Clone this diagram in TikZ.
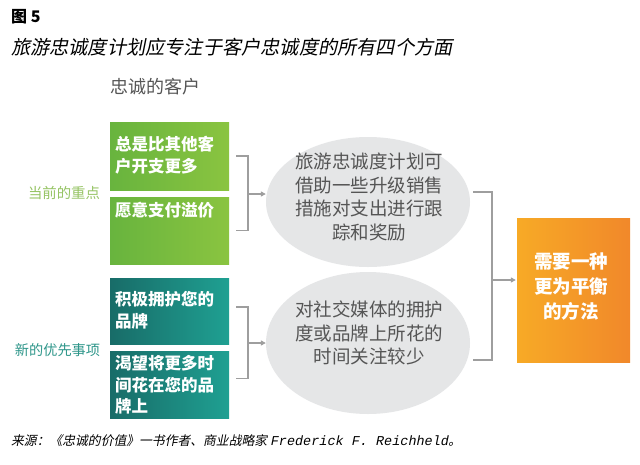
\documentclass[tikz,border=0pt]{standalone}
\usepackage{fontspec}
\setmainfont{Noto Sans CJK SC}
\newfontfamily\cjkslant{Noto Sans CJK SC}[FakeSlant=0.2]
\newfontfamily\monoslant{Liberation Mono}[FakeSlant=0.2]
\usetikzlibrary{arrows.meta,shapes.geometric}
\definecolor{gl}{RGB}{104,180,62}
\definecolor{gr}{RGB}{138,196,64}
\definecolor{tl}{RGB}{24,108,104}
\definecolor{tr}{RGB}{31,160,146}
\definecolor{ol}{RGB}{247,170,38}
\definecolor{or}{RGB}{241,136,42}
\definecolor{ellfill}{RGB}{229,230,231}
\definecolor{linegray}{RGB}{158,158,158}
\definecolor{etextc}{RGB}{85,85,85}
\definecolor{lblgreen}{RGB}{150,196,100}
\definecolor{lblteal}{RGB}{46,150,138}
\begin{document}
\begin{tikzpicture}[x=1pt,y=-1pt,
  gbox/.style={rectangle, inner sep=0pt, left color=gl, right color=gr, draw=none},
  tbox/.style={rectangle, inner sep=0pt, left color=tl, right color=tr, draw=none},
  obox/.style={rectangle, inner sep=0pt, left color=ol, right color=or, draw=none},
  btext/.style={inner sep=0pt, anchor=west, align=left, text=white, font=\fontsize{16.5}{21.5}\selectfont\bfseries},
  ell/.style={ellipse, inner sep=0pt, fill=ellfill, draw=none},
  etext/.style={inner sep=0pt, align=center, text=etextc, font=\fontsize{18.5}{23.5}\selectfont},
  otext/.style={inner sep=0pt, align=center, text=white, font=\fontsize{18.5}{25}\selectfont\bfseries},
  conn/.style={draw=linegray, line width=1.2pt},
  arr/.style={conn, -{Triangle[length=5pt,width=5pt]}},
]
\useasboundingbox[fill=white] (0,0) rectangle (640,464);

% titles
\node[anchor=west, inner sep=0pt, font=\fontsize{16}{18}\selectfont\bfseries] (title) at (11,17) {图 5};
\node[anchor=west, inner sep=0pt, font=\cjkslant\fontsize{19.2}{22}\selectfont] (subtitle) at (11,47) {旅游忠诚度计划应专注于客户忠诚度的所有四个方面};
\node[anchor=west, inner sep=0pt, text=etextc, font=\fontsize{18}{20}\selectfont] (head) at (110,87) {忠诚的客户};

% side labels
\node[inner sep=0pt, text=lblgreen, font=\fontsize{14.4}{16}\selectfont] (lab1) at (64,193) {当前的重点};
\node[inner sep=0pt, text=lblteal, font=\fontsize{14.2}{16}\selectfont] (lab2) at (57.5,350) {新的优先事项};

% green / teal boxes
\node[gbox, minimum width=119pt, minimum height=68pt] (b1) at (169.5,156) {};
\node[gbox, minimum width=119pt, minimum height=67pt] (b2) at (169.5,230.5) {};
\node[tbox, minimum width=119pt, minimum height=66pt] (b3) at (169.5,311) {};
\node[tbox, minimum width=119pt, minimum height=67pt] (b4) at (169.5,384.5) {};
\node[btext] (t1) at (115,155) {总是比其他客\\户开支更多};
\node[btext] (t2) at (115,210) {愿意支付溢价};
\node[btext] (t3) at (115,310) {积极拥护您的\\品牌};
\node[btext] (t4) at (115,385) {渴望将更多时\\间花在您的品\\牌上};

% ellipses
\node[ell, minimum width=204pt, minimum height=130pt] (e1) at (368,202) {};
\node[ell, minimum width=204pt, minimum height=142pt] (e2) at (368,343) {};
\node[etext] (et1) at (369,197) {旅游忠诚度计划可\\借助一些升级销售\\措施对支出进行跟\\踪和奖励};
\node[etext] (et2) at (369,333) {对社交媒体的拥护\\度或品牌上所花的\\时间关注较少};

% orange box
\node[obox, minimum width=113pt, minimum height=144pt] (o) at (573.5,290) {};
\node[otext] (ot) at (571,287) {需要一种\\更为平衡\\的方法};

% connectors
\coordinate (j1) at (248,194);
\coordinate (j2) at (248,343);
\coordinate (j3) at (492,280);
\draw[conn] ([xshift=7pt]b1.east) -| (j1) |- ([xshift=7pt]b2.east);
\draw[arr] (j1) -- (j1 -| e1.west);
\draw[conn] ([shift={(7pt,4pt)}]b3.east) -| (j2) |- ([shift={(7pt,6pt)}]b4.east);
\draw[arr] (j2) -- (j2 -| e2.west);
\draw[conn] ([shift={(3pt,10pt)}]e1.east) -| (j3) |- ([shift={(3pt,-17pt)}]e2.east);
\draw[arr, shorten >=1pt] (j3) -- (j3 -| o.west);

% source
\node[anchor=west, inner sep=0pt, font=\fontsize{12.8}{15}\selectfont] (src) at (11,441) {\cjkslant 来源：《忠诚的价值》一书作者、商业战略家 {\monoslant\fontsize{13.5}{15}\selectfont Frederick F. Reichheld}。};
\end{tikzpicture}
\end{document}
